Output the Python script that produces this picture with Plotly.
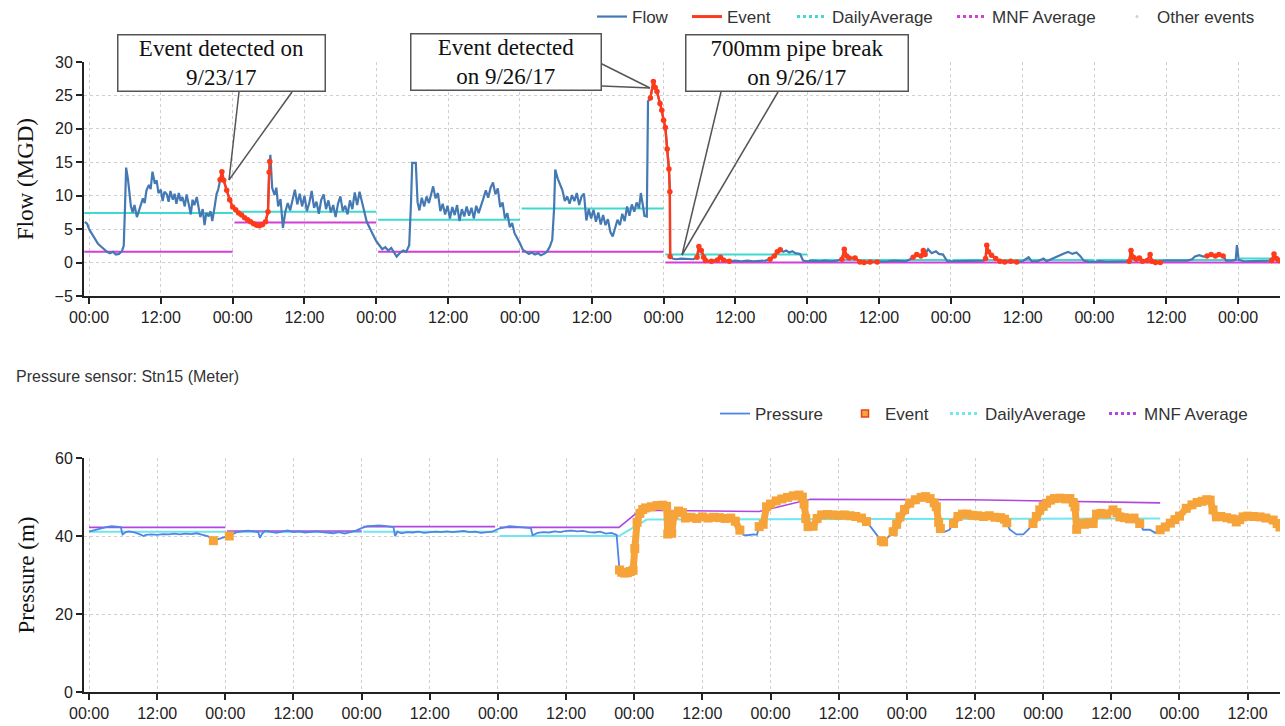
import pandas as pd
import plotly.graph_objects as go

START = pd.Timestamp("2017-09-23 00:00")

# ---------------- Flow (MGD), hours from 9/23/17 00:00 ----------------
flow_hours = [
    -0.7, -0.3, 0, 0.5, 1, 1.5, 2, 2.5, 3, 3.5, 4, 4.5, 5, 5.5, 5.8, 6.0, 6.2, 6.5, 6.8, 7.0,
    7.3, 7.6, 8.0, 8.3, 8.6, 9.0, 9.3, 9.6, 10.0, 10.3, 10.6, 11.0, 11.3, 11.6, 12.0, 12.3, 12.6, 13.0,
    13.3, 13.6, 14.0, 14.3, 14.6, 15.0, 15.3, 15.6, 16.0, 16.3, 16.6, 17.0, 17.3, 17.6, 18.0, 18.3,
    18.6, 19.0, 19.3, 19.6, 20.0, 20.3, 20.6, 21.0, 21.3, 21.6, 21.9, 22.2, 22.5, 23.0, 23.5, 24.0,
    24.5, 25.0, 25.5, 26.0, 26.5, 27.0, 27.5, 28.0, 28.5, 29.0, 29.5, 29.9, 30.1, 30.2, 30.3, 30.6,
    31.0, 31.3, 31.6, 32.0, 32.4, 32.8, 33.2, 33.6, 34.0, 34.4, 34.8, 35.2, 35.6, 36.0, 36.4, 36.8,
    37.2, 37.6, 38.0, 38.4, 38.8, 39.2, 39.6, 40.0, 40.4, 40.8, 41.2, 41.6, 42.0, 42.4, 42.8, 43.2,
    43.6, 44.0, 44.4, 44.8, 45.2, 45.6, 46.0, 46.4, 46.8, 47.2, 47.6, 48.0, 48.5, 49.0, 49.5, 50.0,
    50.5, 51.0, 51.4, 52.0, 52.5, 53.0, 53.5, 53.8, 54.0, 54.6, 54.9, 55.2, 55.6, 56.0, 56.4, 56.8,
    57.2, 57.5, 57.9, 58.3, 58.7, 59.1, 59.5, 59.9, 60.3, 60.7, 61.1, 61.5, 61.9, 62.3, 62.7, 63.1,
    63.5, 63.9, 64.3, 64.7, 65.1, 65.5, 65.9, 66.3, 66.7, 67.1, 67.5, 67.9, 68.3, 68.7, 69.1, 69.5,
    69.9, 70.3, 70.7, 71.1, 71.5, 72.0, 72.5, 73.0, 73.5, 74.0, 74.5, 75.0, 75.5, 76.0, 76.5, 77.0,
    77.4, 77.7, 77.9, 78.3, 78.7, 79.1, 79.5, 79.9, 80.3, 80.7, 81.1, 81.5, 81.9, 82.3, 82.7, 83.1,
    83.5, 83.9, 84.3, 84.7, 85.1, 85.5, 85.9, 86.3, 86.7, 87.1, 87.5, 87.9, 88.3, 88.7, 89.1, 89.5,
    89.9, 90.3, 90.7, 91.1, 91.5, 91.9, 92.2, 92.5, 92.8, 93.2, 93.4, 93.8, 94.3, 94.6, 94.9, 95.4,
    95.7, 96.0, 96.3, 96.6, 96.9, 97.05, 97.1, 97.5, 98, 99, 100, 101, 101.6, 101.9, 102.3, 102.7,
    103.0, 104.0, 105.0, 105.5, 106.0, 107.0, 108, 109, 110, 111, 112, 113, 113.8, 114.5, 115.0,
    115.5, 116.0, 116.5, 117.0, 117.5, 118.0, 118.8, 119.3, 120, 121, 122, 123, 124, 125, 125.8,
    126.2, 126.6, 127.0, 128.0, 128.8, 129.5, 130.5, 131.7, 132.5, 133.5, 134.5, 135.5, 136.5,
    137.2, 137.7, 138.3, 139.0, 139.4, 139.7, 140.2, 140.8, 141.5, 142.0, 142.7, 143.4, 144.5,
    145.5, 146.5, 147.5, 148.5, 149.5, 149.8, 150.0, 150.3, 150.8, 151.5, 152.2, 153.0, 154.0,
    155.0, 156.0, 157.0, 157.5, 158.5, 159.5, 160.0, 161.0, 162.0, 163.0, 163.6, 164.3, 165.0,
    165.6, 166.2, 167.0, 168, 169, 170, 171, 172, 173.0, 173.8, 174.1, 174.5, 175.0, 175.5, 176.0,
    176.8, 177.3, 177.6, 178.2, 179.0, 179.5, 180.5, 181.5, 182.5, 183.5, 184.3, 184.8, 185.5,
    186.2, 186.8, 187.5, 188.2, 188.8, 189.5, 190.0, 191.0, 191.6, 191.8, 192.1, 193, 194, 195,
    196, 197.0, 197.6, 198.0, 198.4, 198.8,
]
flow_mgd = [
    6.1, 5.8, 5.0, 4.2, 3.4, 2.8, 2.4, 2.0, 1.6, 1.4, 1.6, 1.2, 1.3, 1.7, 2.5, 8.0, 14.2, 12.5, 10.0, 8.4,
    7.5, 8.6, 6.8, 7.6, 8.4, 9.6, 8.9, 10.8, 11.6, 11.0, 13.6, 11.8, 12.3, 10.4, 10.9, 9.2, 10.6, 10.2,
    9.1, 10.7, 9.4, 10.3, 8.8, 10.4, 9.2, 9.8, 8.4, 10.2, 9.0, 7.2, 9.4, 8.6, 9.8, 7.9,
    6.8, 8.0, 5.6, 7.4, 6.9, 7.7, 6.2, 8.4, 10.2, 11.0, 12.4, 13.6, 12.3, 10.8, 9.4, 8.3,
    7.9, 7.4, 7.1, 6.7, 6.4, 6.1, 5.8, 5.6, 5.5, 5.7, 6.1, 7.6, 13.5, 15.1, 16.1, 11.2,
    10.1, 11.2, 8.4, 9.5, 5.2, 7.6, 8.9, 7.8, 9.6, 10.9, 8.7, 10.3, 8.4, 10.0, 7.7, 8.9,
    10.7, 8.2, 9.1, 7.3, 9.4, 10.2, 8.0, 9.3, 7.5, 8.6, 6.8, 8.8, 9.9, 7.7, 8.5, 7.2,
    9.3, 8.0, 10.5, 8.6, 10.6, 8.9, 7.6, 6.1, 5.3, 4.6, 3.9, 3.2, 2.6, 2.0, 2.3, 1.8,
    2.2, 1.4, 0.9, 1.5, 1.8, 1.6, 2.6, 9.0, 14.9, 14.9, 9.0, 7.8, 9.7, 8.4, 9.9, 8.9,
    10.3, 11.4, 9.6, 10.4, 7.7, 8.8, 7.2, 8.5, 6.6, 8.3, 7.1, 8.6, 6.2, 8.0, 6.9, 8.4,
    7.0, 8.2, 6.6, 8.5, 7.4, 8.7, 9.6, 10.8, 9.7, 11.2, 12.0, 10.2, 11.1, 8.3, 9.0, 6.6,
    7.4, 5.3, 5.9, 4.4, 3.8, 2.9, 1.9, 1.6, 1.3, 1.5, 1.2, 1.4, 1.1, 1.3, 1.6, 2.4,
    3.4, 8.0, 13.9, 12.6, 11.6, 10.8, 9.2, 9.9, 8.8, 10.1, 9.2, 10.4, 8.6, 9.9, 10.3, 6.3,
    8.0, 6.6, 7.9, 6.1, 7.5, 5.7, 7.1, 5.6, 6.5, 4.6, 3.9, 5.2, 6.4, 5.6, 7.3, 6.2,
    8.4, 7.0, 8.7, 7.6, 9.0, 8.1, 10.4, 8.8, 7.0, 6.9, 24.1, 24.6, 27.1, 26.2, 25.6, 23.8,
    22.8, 21.3, 20.2, 17.0, 14.0, 10.6, 0.9, 0.6, 0.5, 0.6, 0.5, 0.5, 0.8, 2.4, 1.8, 0.8,
    0.3, 0.2, 0.4, 0.8, 0.4, 0.2, 0.3, 0.2, 0.3, 0.2, 0.3, 0.3, 0.5, 1.0, 1.6,
    1.9, 1.6, 1.8, 1.5, 1.7, 1.4, 1.3, 0.3, 0.2, 0.3, 0.2, 0.3, 0.2, 0.3, 0.5,
    2.0, 1.0, 0.7, 0.7, 0.1, 0.0, 0.1, 0.1, 0.2, 0.2, 0.3, 0.2, 0.2,
    0.5, 0.8, 1.2, 1.0, 1.8, 1.2, 2.0, 1.4, 1.7, 1.3, 1.2, 0.2, 0.2,
    0.3, 0.2, 0.3, 0.2, 0.3, 0.6, 2.6, 1.6, 1.1, 0.6, 0.2, 0.1, 0.2,
    0.1, 0.2, 0.8, 0.2, 0.2, 0.6, 0.2, 0.6, 1.1, 1.4, 1.6, 1.3, 1.5,
    1.0, 0.3, 0.1, 0.1, 0.2, 0.1, 0.1, 0.2, 0.1, 0.2, 1.8, 0.8, 0.5, 0.7, 0.2,
    0.3, 1.2, 0.2, 0.0, 0.0, 0.3, 0.3, 0.2, 0.3, 0.3, 0.5, 0.9, 1.1,
    0.9, 1.0, 1.2, 1.0, 1.2, 1.0, 0.3, 0.3, 0.4, 2.6, 0.4, 0.2, 0.2, 0.3,
    0.2, 0.2, 0.3, 1.3, 0.6, 0.3,
]
flow_event_windows = [
    (21.9, 30.2), (93.8, 97.1), (101.6, 107.0), (113.8, 115.5), (125.8, 131.7),
    (137.7, 139.7), (149.8, 155.0), (173.8, 179.0), (186.8, 189.5), (197.6, 198.8),
]
flow_daily_start = [-0.8, 24.3, 48.3, 72.3, 96.3, 120.3, 144.3, 168.3, 192.3]
flow_daily_end = [24.0, 48.0, 72.0, 96.0, 120.0, 144.0, 168.0, 192.0, 199.0]
flow_daily_avg = [7.4, 7.6, 6.4, 8.1, 1.2, 0.4, 0.4, 0.4, 0.6]
flow_mnf_start = [-0.8, 24.3, 48.3, 72.3, 96.3]
flow_mnf_end = [24.0, 48.0, 72.0, 96.0, 199.0]
flow_mnf_avg = [1.6, 6.0, 1.6, 1.6, 0.0]

# ---------------- Pressure (m) ----------------
press_hours = [
    0, 1, 2, 3, 4, 5, 5.6, 5.9, 6.5, 7, 8, 9, 9.6, 10, 11, 12, 13, 14, 15, 16, 17, 18, 19, 20, 21,
    21.9, 23, 24, 24.7, 25.5, 26, 27, 28, 29, 29.8, 30.1, 30.5, 31, 32, 33, 34, 35, 36, 37, 38, 39,
    40, 41, 42, 43, 44, 45, 46, 47, 48, 49, 50, 51, 52, 53, 53.6, 53.9, 54.3, 55, 56, 57, 58, 59,
    60, 61, 62, 63, 64, 65, 66, 67, 68, 69, 70, 71, 72, 73, 74, 75, 76, 77, 77.8, 78.1, 79, 80,
    81, 82, 83, 84, 85, 86, 87, 88, 89, 90, 91, 92, 92.9, 93.4, 93.8, 94.3, 94.8, 95.3, 95.8,
    96.1, 96.5, 97.0, 97.5, 98, 99, 100, 101, 101.7, 101.9, 102.2, 102.6, 103, 103.8, 104.5, 105,
    106, 107, 108, 109, 110, 111, 112, 113, 113.8, 114.6, 115.2, 116, 117, 117.6, 118.0, 118.7,
    119.3, 120, 121, 122, 123, 124, 125, 125.6, 125.9, 126.2, 126.6, 127.5, 128.2, 129, 130,
    131, 132, 133, 134, 135, 136, 136.9, 137.7, 138.7, 139.5, 139.9, 140.6, 141.6, 142.2, 142.8,
    143.6, 144.5, 145.5, 146.5, 147.3, 148.1, 148.8, 149.2, 149.6, 149.9, 150.7, 151.5, 152.2,
    153, 153.8, 154.6, 155.5, 156.5, 157.5, 158.5, 159.5, 160.5, 161.2, 161.6, 162.1, 163.3,
    164.5, 165.4, 166.2, 166.8, 167.4, 168, 168.6, 169.3, 170, 171, 172, 172.7, 173.3, 173.6,
    173.9, 174.5, 175.3, 176, 176.8, 177.4, 178.2, 179.2, 180.3, 181, 181.5, 182.3, 183.2, 184,
    185, 185.6, 186.8, 187.7, 188.6, 189.5, 190.4, 191.2, 192, 193.2, 194.2, 195.1, 196, 196.8,
    197.4, 197.9, 198.5, 199.3, 200.3, 201.2, 202, 202.6, 203.2, 204, 205, 206.2, 207.2, 208.5,
    209.2, 209.7,
]
press_m = [
    41.1, 41.5, 42.0, 42.3, 42.5, 42.4, 42.3, 40.4, 41.0, 41.2, 40.9, 40.4, 40.0, 40.3, 40.4, 40.3,
    40.5, 40.4, 40.6, 40.4, 40.6, 40.5, 40.7, 40.3, 39.9,
    38.8, 39.4, 39.8, 40.0, 40.7, 41.0, 41.2, 41.4, 41.2, 41.0, 39.5, 40.6, 41.3, 41.0, 40.8, 41.1,
    41.4, 41.0, 41.2, 40.9, 41.1,
    41.2, 41.0, 40.8, 40.7, 41.0, 40.6, 41.0, 41.4, 42.0, 42.5, 42.6, 42.7, 42.6, 42.4, 42.3, 40.0,
    41.1, 40.7, 41.0, 40.9, 41.1, 40.8,
    41.0, 41.1, 41.0, 41.2, 41.0, 41.1, 41.3, 41.0, 41.1, 40.8, 40.9, 41.1, 41.8, 42.2, 42.5, 42.4,
    42.3, 42.2, 42.0, 40.2, 40.8, 41.0,
    40.9, 41.2, 41.0, 41.3, 41.4, 41.2, 41.3, 41.0, 40.9, 41.1, 40.6, 40.8, 40.3, 31.3, 30.7, 30.5,
    30.6, 30.9, 31.2,
    36.8, 43.5, 45.8, 46.8, 47.2, 47.5, 47.8, 47.9, 47.6, 40.5, 42.0, 40.7, 45.5, 46.4, 46.0, 44.6,
    44.8, 44.5, 44.9, 44.6, 44.8, 44.7, 44.5, 44.6, 43.8, 41.5, 40.3, 40.2, 40.4, 40.3, 42.4, 43.0,
    47.5, 48.2, 49.0, 49.5, 49.9, 50.3, 50.5, 50.0, 48.2, 44.5, 42.4, 42.5, 44.5, 45.4, 45.5,
    45.4, 45.3, 45.4, 45.2, 45.0, 44.6, 43.7, 42.2, 40.3, 38.8, 38.5, 39.6, 41.1, 43.0, 44.9,
    46.8, 48.4, 49.3, 49.9, 50.1, 49.6, 48.5, 47.5, 43.5, 41.9, 41.1, 41.6, 43.2,
    45.0, 45.6, 45.6, 45.3, 45.2, 45.0, 45.2, 44.8, 44.7, 44.3, 43.4, 41.7, 40.4,
    40.4, 41.7, 43.2, 45.0, 46.7, 47.6, 48.4, 49.2, 49.6, 49.7, 49.5, 49.6, 48.6, 47.5,
    41.7, 43.2, 43.0, 43.4, 43.2, 45.6, 45.8, 45.6, 46.7, 46.0, 44.9, 44.7, 44.4, 44.6,
    43.2, 41.6, 41.6, 40.8, 41.6, 42.3, 43.3, 44.2, 45.1, 47.1, 48.0, 48.6, 48.9, 49.3,
    49.2, 46.7, 44.9, 45.0, 44.7, 44.4, 43.6, 44.2, 44.9, 45.1, 45.0, 44.9, 44.6, 44.1,
    43.2, 42.3,
]
press_event_windows = [
    (21.9, 21.9), (24.7, 24.7), (93.4, 114.6), (118.0, 137.0), (139.5, 139.9),
    (141.6, 149.9), (152.2, 161.6), (166.2, 185.0), (188.6, 209.7),
]
press_daily_hours = [0, 24, None, 24.3, 48, None, 48.3, 72, None, 72.3, 93.3, 98.2, 160, 188.6]
press_daily_m = [41.1, 41.1, None, 41.0, 41.0, None, 41.1, 41.1, None, 40.0, 40.0, 44.2, 44.4, 44.5]
press_mnf_hours = [0, 24, None, 24.3, 48, None, 48.3, 71.5, None, 72.3, 93.3, 97.0, 118.0, 127.0, 155.0, 188.6]
press_mnf_m = [42.2, 42.2, None, 41.3, 41.3, None, 42.4, 42.4, None, 42.2, 42.2, 46.6, 46.3, 49.4, 49.3, 48.5]

# ---------------- helpers ----------------
def to_time(hours):
    return [None if h is None else (START + pd.Timedelta(hours=h)).strftime("%Y-%m-%d %H:%M:%S")
            for h in hours]

def segments(starts, ends, vals):
    xs, ys = [], []
    for s, e, v in zip(starts, ends, vals):
        xs += [s, e, None]
        ys += [v, v, None]
    return xs, ys

def in_windows(hours, vals, windows):
    return [v if any(a - 1e-9 <= h <= b + 1e-9 for a, b in windows) else None
            for h, v in zip(hours, vals)]

SANS = "Liberation Sans, Arial, sans-serif"
SERIF = "Liberation Serif, Times New Roman, serif"

FLOW_C = "#4479b3"
EVENT_C = "#ff3a1a"
DAILY_C = "#3fd9d0"
MNF_C = "#d23fd6"
PRESS_C = "#4f86e6"
PDAILY_C = "#6fe6f0"
PMNF_C = "#b048e0"
ORANGE = "#f6a43a"

L, R, T, B = 84, 5, 62, 34
W, H = 1285, 726
PW, PH = W - L - R, H - T - B


def px(x):
    return (x - L) / PW


def py(y):
    return (H - B - y) / PH


fig = go.Figure()

# ---- top: flow ----
dx, dy = segments(flow_daily_start, flow_daily_end, flow_daily_avg)
fig.add_trace(go.Scatter(x=to_time(dx), y=dy, mode="lines", line=dict(color=DAILY_C, width=2),
                         showlegend=False, xaxis="x", yaxis="y"))
mx, my = segments(flow_mnf_start, flow_mnf_end, flow_mnf_avg)
fig.add_trace(go.Scatter(x=to_time(mx), y=my, mode="lines", line=dict(color=MNF_C, width=2),
                         showlegend=False, xaxis="x", yaxis="y"))
fig.add_trace(go.Scatter(x=to_time(flow_hours), y=flow_mgd, mode="lines", name="Flow",
                         line=dict(color=FLOW_C, width=2.2), legend="legend",
                         xaxis="x", yaxis="y"))
fig.add_trace(go.Scatter(x=to_time(flow_hours), y=in_windows(flow_hours, flow_mgd, flow_event_windows),
                         mode="lines+markers", line=dict(color=EVENT_C, width=2.4),
                         marker=dict(color=EVENT_C, size=5.5), showlegend=False,
                         xaxis="x", yaxis="y"))
# legend-only entries (each in its own legend box for exact placement)
fig.add_trace(go.Scatter(x=[None], y=[None], mode="lines", name="Event",
                         line=dict(color=EVENT_C, width=3), legend="legend3",
                         xaxis="x", yaxis="y"))
fig.add_trace(go.Scatter(x=[None], y=[None], mode="lines", name="DailyAverage",
                         line=dict(color=DAILY_C, width=3, dash="dot"), legend="legend4",
                         xaxis="x", yaxis="y"))
fig.add_trace(go.Scatter(x=[None], y=[None], mode="lines", name="MNF Average",
                         line=dict(color=MNF_C, width=3, dash="dot"), legend="legend5",
                         xaxis="x", yaxis="y"))
fig.add_trace(go.Scatter(x=[None], y=[None], mode="markers", name="Other events",
                         marker=dict(color="#cfcfcf", size=3), legend="legend6",
                         xaxis="x", yaxis="y"))

# ---- bottom: pressure ----
fig.add_trace(go.Scatter(x=to_time(press_daily_hours), y=press_daily_m, mode="lines",
                         line=dict(color=PDAILY_C, width=2), showlegend=False,
                         xaxis="x2", yaxis="y2"))
fig.add_trace(go.Scatter(x=to_time(press_mnf_hours), y=press_mnf_m, mode="lines",
                         line=dict(color=PMNF_C, width=1.6), showlegend=False,
                         xaxis="x2", yaxis="y2"))
fig.add_trace(go.Scatter(x=to_time(press_hours), y=press_m, mode="lines", name="Pressure",
                         line=dict(color=PRESS_C, width=1.8), legend="legend2",
                         xaxis="x2", yaxis="y2"))
fig.add_trace(go.Scatter(x=to_time(press_hours), y=in_windows(press_hours, press_m, press_event_windows),
                         mode="lines+markers", line=dict(color=ORANGE, width=7),
                         marker=dict(color=ORANGE, size=9, symbol="square"), showlegend=False,
                         xaxis="x2", yaxis="y2"))
fig.add_trace(go.Scatter(x=[None], y=[None], mode="markers", name="Event",
                         marker=dict(color=ORANGE, size=7, symbol="square",
                                     line=dict(color="#e8401c", width=1.5)),
                         legend="legend7", xaxis="x2", yaxis="y2"))
fig.add_trace(go.Scatter(x=[None], y=[None], mode="lines", name="DailyAverage",
                         line=dict(color=PDAILY_C, width=3, dash="dot"), legend="legend8",
                         xaxis="x2", yaxis="y2"))
fig.add_trace(go.Scatter(x=[None], y=[None], mode="lines", name="MNF Average",
                         line=dict(color=PMNF_C, width=3, dash="dot"), legend="legend9",
                         xaxis="x2", yaxis="y2"))

# ---- layout ----
axis_common = dict(
    type="date", tickformat="%H:%M", dtick=12 * 3600 * 1000, tick0="2017-09-23 00:00:00",
    showline=True, linecolor="#222", linewidth=2, ticks="outside", ticklen=6, tickwidth=1.5,
    tickcolor="#222", showgrid=True, gridcolor="#cfcfcf", griddash="3px,3px", gridwidth=1,
    tickfont=dict(family=SANS, size=16, color="#222"), zeroline=False, mirror=False,
)
yaxis_common = dict(
    showline=True, linecolor="#222", linewidth=2, ticks="outside", ticklen=6, tickwidth=1.5,
    tickcolor="#222", showgrid=True, gridcolor="#cfcfcf", griddash="3px,3px", gridwidth=1,
    tickfont=dict(family=SANS, size=16, color="#222"), zeroline=False,
)


def legend_at(sample_left, y_center):
    return dict(orientation="h", x=px(sample_left - 5), xanchor="left", y=py(y_center),
                yanchor="middle", font=dict(family=SANS, size=17, color="#333"),
                bgcolor="rgba(0,0,0,0)", borderwidth=0)


fig.update_layout(
    width=W, height=H,
    margin=dict(l=L, r=R, t=T, b=B, autoexpand=False),
    paper_bgcolor="white", plot_bgcolor="white",
    xaxis=dict(axis_common, domain=[0, 1], anchor="y",
               range=to_time([-0.84, 199.0])),
    yaxis=dict(yaxis_common, domain=[py(296), 1], anchor="x", range=[-5, 30], dtick=5,
               title=dict(text="Flow (MGD)", font=dict(family=SERIF, size=23, color="#111"),
                          standoff=14)),
    xaxis2=dict(axis_common, domain=[0, 1], anchor="y2",
                range=to_time([-0.88, 209.7])),
    yaxis2=dict(yaxis_common, domain=[0, py(458)], anchor="x2", range=[0, 60], dtick=20,
                title=dict(text="Pressure (m)", font=dict(family=SERIF, size=23, color="#111"),
                           standoff=14)),
    legend=legend_at(597, 17),
    legend3=legend_at(692, 17),
    legend4=legend_at(797, 17),
    legend5=legend_at(957, 17),
    legend6=legend_at(1122, 17),
    legend2=legend_at(720, 414),
    legend7=legend_at(850, 414),
    legend8=legend_at(950, 414),
    legend9=legend_at(1109, 414),
    showlegend=True,
)

# sensor caption
fig.add_annotation(text="Pressure sensor: Stn15 (Meter)", xref="paper", yref="paper",
                   x=px(14), y=py(376), xanchor="left", yanchor="middle", showarrow=False,
                   font=dict(family=SANS, size=16, color="#333"))

# callout boxes
callouts = [
    ("Event detected on<br>9/23/17", 221, 62.5, 206),
    ("Event detected<br>on 9/26/17", 505.5, 62, 189),
    ("700mm pipe break<br>on 9/26/17", 796.5, 62.5, 221),
]
for text, cx, cy, w in callouts:
    fig.add_annotation(text=text, xref="paper", yref="paper", x=px(cx), y=py(cy),
                       xanchor="center", yanchor="middle", showarrow=False,
                       font=dict(family=SERIF, size=23, color="#111"),
                       bgcolor="white", bordercolor="#555", borderwidth=1.5, borderpad=0,
                       width=w, align="center")

wedges = [
    ((239, 92), (229, 180)), ((292, 92), (229, 180)),
    ((600, 63), (650, 88)), ((602, 86), (650, 88)),
    ((721, 92), (682, 255)), ((778, 92), (682, 255)),
]
for (x0, y0), (x1, y1) in wedges:
    fig.add_shape(type="line", xref="paper", yref="paper", x0=px(x0), y0=py(y0),
                  x1=px(x1), y1=py(y1), line=dict(color="#555", width=1.5), layer="above")

fig.write_html("out.html", config={"displayModeBar": False},
               post_script="document.body.style.margin='0';document.body.style.overflow='hidden';")
